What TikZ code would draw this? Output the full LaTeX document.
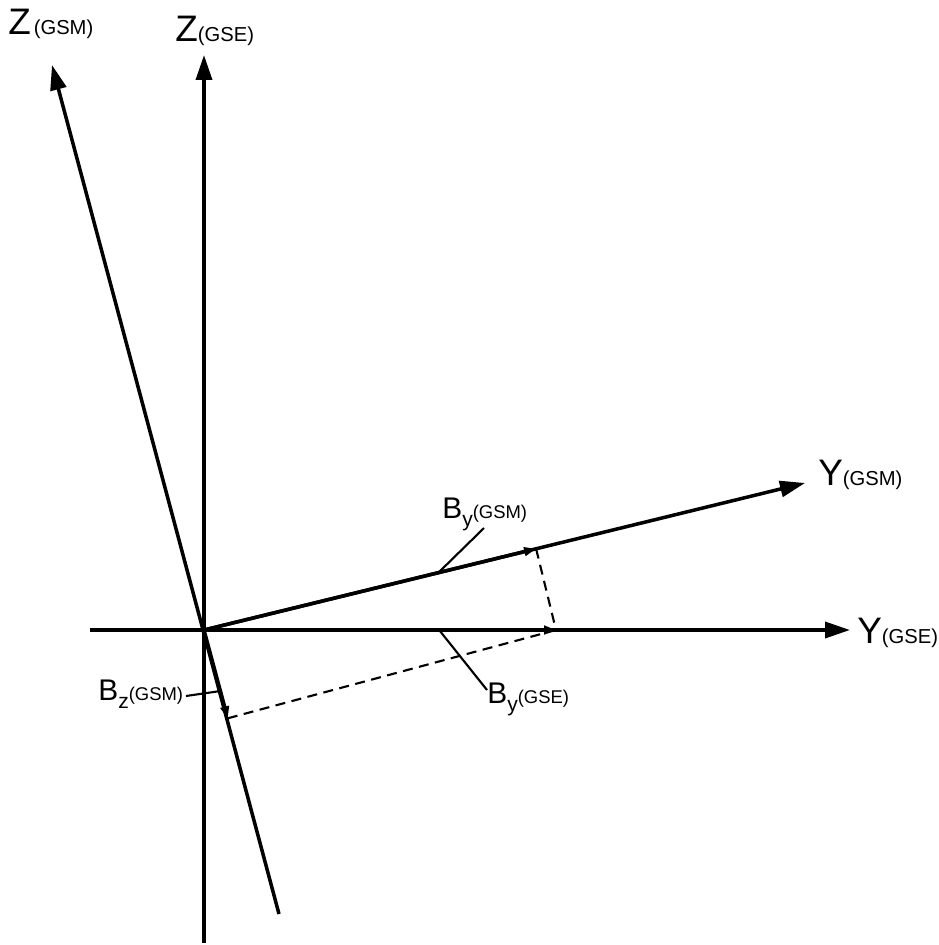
\documentclass[tikz,border=0pt]{standalone}
\usepackage{fontspec}
\setmainfont{Liberation Sans}
\usetikzlibrary{arrows.meta,calc}
\newcommand{\biglab}[1]{{\fontsize{21}{21}\selectfont #1}}
\newcommand{\gsub}[1]{{\fontsize{11.5}{11.5}\selectfont #1}}
\newcommand{\complab}[2]{{\fontsize{17}{17}\selectfont B}\raisebox{-0.17cm}{\fontsize{12}{12}\selectfont #1}{\fontsize{10.5}{10.5}\selectfont(#2)}}
\tikzset{
  axis/.style={line width=2pt,-{Triangle[length=0.5cm,width=0.32cm]}},
  vec/.style={line width=2pt,-{Triangle[length=0.24cm,width=0.17cm]}},
  proj/.style={line width=1.2pt,dash pattern=on 0.2cm off 0.13cm},
  leader/.style={line width=1.2pt},
  lab/.style={inner sep=0pt,anchor=base west},
}
\begin{document}
\begin{tikzpicture}[x=0.02cm,y=-0.02cm]
    \useasboundingbox (0,0) rectangle (938,945);
    \coordinate (O) at (204,630);
    \coordinate (ZEbot) at (204,943);
    \coordinate (ZE) at (204,55);
    \coordinate (YEleft) at (90,630);
    \coordinate (YE) at (850,630);
    \coordinate (YM) at (805,483);
    \coordinate (ZMbot) at (279,914);
    \coordinate (ZM) at (52,65);
    % axes of both systems
    \draw[axis] (ZEbot) -- (ZE);
    \draw[axis] (YEleft) -- (YE);
    \draw[axis] (O) -- (YM);
    \draw[axis] (ZMbot) -- (ZM);
    \node[lab] (lZM) at (8,35) {\biglab{Z}\,\gsub{(GSM)}};
    \node[lab] (lZE) at (175,42) {\biglab{Z}\gsub{(GSE)}};
    \node[lab] (lYM) at (818,485) {\biglab{Y}\gsub{(GSM)}};
    \node[lab] (lYE) at (857,643) {\biglab{Y}\gsub{(GSE)}};
    % field components
    \coordinate (Bye) at (556,630);
    \coordinate (Bym) at ($(O)!(Bye)!(YM)$);
    \coordinate (Bzm) at ($(O)!(Bye)!(ZM)$);
    \draw[vec] (O) -- (Bye);
    \draw[vec] (O) -- (Bym);
    \draw[vec] (O) -- (Bzm);
    \draw[proj] (Bym) -- (Bye);
    \draw[proj] (Bzm) -- (Bye);
    % labels with leaders
    \node[lab] (lBym) at (442,518) {\complab{y}{GSM}};
    \node[lab] (lBye) at (487,703) {\complab{y}{GSE}};
    \node[lab] (lBzm) at (98,700) {\complab{z}{GSM}};
    \coordinate (tBym) at (484,528);
    \coordinate (tBye) at (487,690);
    \coordinate (tBzm) at (186,696);
    \draw[leader] (tBym) -- ($(O)!0.39!(YM)$);
    \draw[leader] (tBye) -- ($(O)!0.364!(YE)$);
    \draw[leader] (tBzm) -- ($(O)!0.215!(ZMbot)$);
\end{tikzpicture}
\end{document}
